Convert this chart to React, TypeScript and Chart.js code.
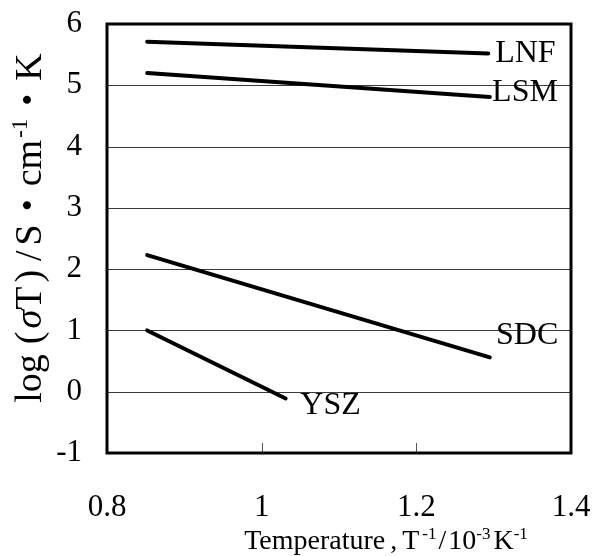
import React, { useEffect, useRef } from "react";
import { Chart, registerables } from "chart.js";

Chart.register(...registerables);

// ---- data ----
const SERIES_NAMES = ["LNF", "LSM", "SDC", "YSZ"];
const LNF_X = [0.852, 1.293];
const LNF_Y = [5.71, 5.52];
const LSM_X = [0.852, 1.295];
const LSM_Y = [5.2, 4.81];
const SDC_X = [0.852, 1.295];
const SDC_Y = [2.23, 0.56];
const YSZ_X = [0.852, 1.031];
const YSZ_Y = [1.0, -0.11];
// label anchor (left edge, vertical middle) in data units
const LABEL_X = [1.302, 1.298, 1.303, 1.05];
const LABEL_Y = [5.51, 4.88, 0.91, -0.23];

const X_TICKS = [0.8, 1, 1.2, 1.4];
const X_TICK_LABELS = ["0.8", "1", "1.2", "1.4"];
const Y_TICKS = [-1, 0, 1, 2, 3, 4, 5, 6];
const Y_TICK_LABELS = ["-1", "0", "1", "2", "3", "4", "5", "6"];

type Run = { t: string; sup?: boolean; italic?: boolean; gap?: number };

const X_TITLE: Run[] = [
  { t: "Temperature" },
  { t: ",", gap: 5 },
  { t: "T", gap: 5 },
  { t: "-1", sup: true, gap: 3 },
  { t: "/", gap: 2 },
  { t: "10", gap: 2 },
  { t: "-3", sup: true },
  { t: "K", gap: 3 },
  { t: "-1", sup: true },
];
const Y_TITLE: Run[] = [
  { t: "log" },
  { t: "(", gap: 10 },
  { t: "σ", italic: true, gap: 3 },
  { t: "T" },
  { t: ")", gap: 4 },
  { t: "/", gap: 9 },
  { t: "S", gap: 5 },
  { t: "・" },
  { t: "cm" },
  { t: "-1", sup: true, gap: 2 },
  { t: "・" },
  { t: "K" },
];

const SERIF = "'Liberation Serif', 'Noto Sans CJK JP', serif";

function runFont(r: Run, size: number) {
  const s = r.sup ? Math.round(size * 0.6) : size;
  return `${r.italic ? "italic " : ""}${s}px ${SERIF}`;
}

function measureRuns(ctx: CanvasRenderingContext2D, runs: Run[], size: number) {
  let w = 0;
  for (const r of runs) {
    ctx.font = runFont(r, size);
    w += (r.gap ?? 0) + ctx.measureText(r.t).width;
  }
  return w;
}

function drawRuns(ctx: CanvasRenderingContext2D, runs: Run[], size: number, cx: number, baseY: number) {
  const total = measureRuns(ctx, runs, size);
  let x = cx - total / 2;
  ctx.textAlign = "left";
  ctx.textBaseline = "alphabetic";
  ctx.fillStyle = "#000";
  for (const r of runs) {
    ctx.font = runFont(r, size);
    x += r.gap ?? 0;
    const y = r.sup ? baseY - size * 0.36 : baseY;
    ctx.fillText(r.t, x, y);
    x += ctx.measureText(r.t).width;
  }
}

const decorPlugin = {
  id: "decor",
  beforeDatasetsDraw(chart: any) {
    const { ctx, chartArea, scales } = chart;
    const xs = scales.x;
    const ys = scales.y;
    ctx.save();
    ctx.strokeStyle = "#3a3a3a";
    ctx.lineWidth = 1;
    for (const v of Y_TICKS) {
      if (v === Y_TICKS[0] || v === Y_TICKS[Y_TICKS.length - 1]) continue;
      const y = Math.round(ys.getPixelForValue(v)) + 0.5;
      ctx.beginPath();
      ctx.moveTo(chartArea.left, y);
      ctx.lineTo(chartArea.right, y);
      ctx.stroke();
    }
    ctx.strokeStyle = "#555";
    for (const v of X_TICKS) {
      if (v === X_TICKS[0] || v === X_TICKS[X_TICKS.length - 1]) continue;
      const x = Math.round(xs.getPixelForValue(v)) + 0.5;
      ctx.beginPath();
      ctx.moveTo(x, chartArea.bottom);
      ctx.lineTo(x, chartArea.bottom - 10);
      ctx.stroke();
    }
    ctx.restore();
  },
  afterDatasetsDraw(chart: any) {
    const { ctx, chartArea, scales } = chart;
    const xs = scales.x;
    const ys = scales.y;
    ctx.save();
    ctx.strokeStyle = "#000";
    ctx.lineWidth = 3;
    ctx.strokeRect(chartArea.left, chartArea.top, chartArea.right - chartArea.left, chartArea.bottom - chartArea.top);
    ctx.font = `32px ${SERIF}`;
    ctx.fillStyle = "#000";
    ctx.textAlign = "left";
    ctx.textBaseline = "middle";
    SERIES_NAMES.forEach((name, i) => {
      ctx.fillText(name, xs.getPixelForValue(LABEL_X[i]), ys.getPixelForValue(LABEL_Y[i]));
    });
    drawRuns(ctx, X_TITLE, 28, 386, 549);
    ctx.translate(41, 228);
    ctx.rotate(-Math.PI / 2);
    drawRuns(ctx, Y_TITLE, 38, 0, 0);
    ctx.restore();
  },
};

const zeroPad = (s: any) => {
  s.paddingLeft = 0;
  s.paddingRight = 0;
  s.paddingTop = 0;
  s.paddingBottom = 0;
};

export default function App() {
  const ref = useRef<HTMLCanvasElement | null>(null);
  useEffect(() => {
    if (!ref.current) return;
    const mk = (xs: number[], ys: number[], label: string) => ({
      label,
      data: xs.map((x, i) => ({ x, y: ys[i] })),
      borderColor: "#000",
      borderWidth: 4,
      borderCapStyle: "round" as const,
      pointRadius: 0,
      fill: false,
      tension: 0,
    });
    const chart = new Chart(ref.current, {
      type: "line",
      data: {
        datasets: [
          mk(LNF_X, LNF_Y, SERIES_NAMES[0]),
          mk(LSM_X, LSM_Y, SERIES_NAMES[1]),
          mk(SDC_X, SDC_Y, SERIES_NAMES[2]),
          mk(YSZ_X, YSZ_Y, SERIES_NAMES[3]),
        ],
      },
      options: {
        animation: false,
        responsive: false,
        maintainAspectRatio: false,
        layout: { padding: { left: 0, top: 24, right: 23, bottom: 0 } },
        plugins: { legend: { display: false }, tooltip: { enabled: false } },
        scales: {
          x: {
            type: "linear",
            min: X_TICKS[0],
            max: X_TICKS[X_TICKS.length - 1],
            afterBuildTicks: (s: any) => {
              s.ticks = X_TICKS.map((v) => ({ value: v }));
            },
            afterFit: (s: any) => {
              s.height = 103;
              zeroPad(s);
            },
            grid: { display: false, drawTicks: false },
            border: { display: false },
            ticks: {
              padding: 36,
              color: "#000",
              font: { family: SERIF, size: 31 },
              maxRotation: 0,
              callback: (v: any) => X_TICK_LABELS[X_TICKS.findIndex((t) => Math.abs(t - v) < 1e-6)] ?? "",
            },
          },
          y: {
            type: "linear",
            min: Y_TICKS[0],
            max: Y_TICKS[Y_TICKS.length - 1],
            afterBuildTicks: (s: any) => {
              s.ticks = Y_TICKS.map((v) => ({ value: v }));
            },
            afterFit: (s: any) => {
              s.width = 107;
              zeroPad(s);
            },
            grid: { display: false, drawTicks: false },
            border: { display: false },
            ticks: {
              padding: 25,
              color: "#000",
              font: { family: SERIF, size: 31 },
              callback: (v: any) => Y_TICK_LABELS[Y_TICKS.findIndex((t) => Math.abs(t - v) < 1e-6)] ?? "",
            },
          },
        },
      },
      plugins: [decorPlugin],
    });
    return () => chart.destroy();
  }, []);
  return (
    <div style={{ position: "fixed", left: 0, top: 0, width: 594, height: 556, background: "#fff" }}>
      <canvas ref={ref} width={594} height={556} style={{ width: 594, height: 556, display: "block" }} />
    </div>
  );
}
